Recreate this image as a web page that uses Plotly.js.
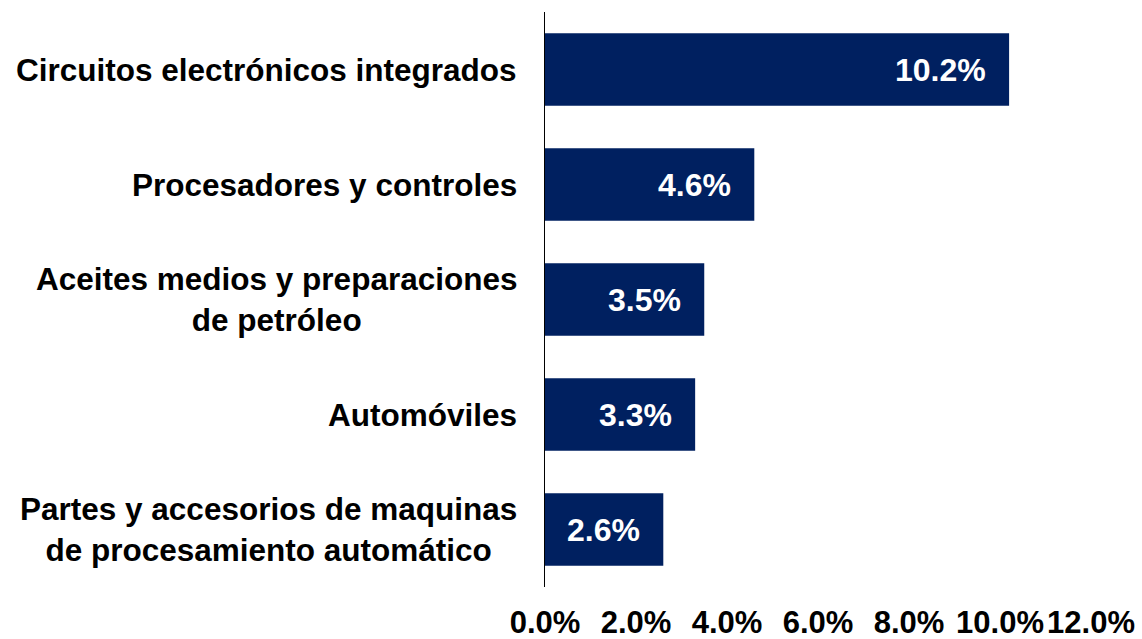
<!DOCTYPE html>
<html>
<head>
<meta charset="utf-8">
<script src="https://cdn.plot.ly/plotly-3.0.1.min.js"></script>
<style>html,body{margin:0;padding:0;background:#fff;}#chart{width:1142px;height:639px;}</style>
</head>
<body>
<div id="chart"></div>
<script>
const categories = [
  "Circuitos electrónicos integrados",
  "Procesadores y controles",
  "Aceites medios y preparaciones<br>de petróleo",
  "Automóviles",
  "Partes y accesorios de maquinas<br>de procesamiento automático"
];
const values = [10.2, 4.6, 3.5, 3.3, 2.6];
const labels = ["10.2%", "4.6%", "3.5%", "3.3%", "2.6%"];
const xTicks = [0, 2, 4, 6, 8, 10, 12];

const FONT = "Arial, 'Liberation Sans', sans-serif";
const NAVY = "#002060";

const trace = {
  type: "bar",
  orientation: "h",
  x: values,
  y: categories,
  marker: {color: NAVY},
  hoverinfo: "none"
};

const annotations = [];
categories.forEach((c, i) => {
  annotations.push({
    x: values[i], y: c, xref: "x", yref: "y",
    text: labels[i], showarrow: false,
    xanchor: "right", xshift: -21,
    font: {family: FONT, size: 32, color: "#ffffff", weight: "bold"}
  });
  annotations.push({
    x: 0, y: c, xref: "paper", yref: "y",
    text: c, showarrow: false,
    xanchor: "right", xshift: -26, align: "center",
    font: {family: FONT, size: 31.5, color: "#000000", weight: "bold"}
  });
});

const layout = {
  width: 1142, height: 639,
  margin: {l: 545, r: 51, t: 12, b: 52, pad: 0},
  paper_bgcolor: "#ffffff", plot_bgcolor: "#ffffff",
  showlegend: false,
  bargap: 0.37,
  font: {family: FONT, size: 30, color: "#000"},
  xaxis: {
    range: [0, 12], tickvals: xTicks,
    ticktext: xTicks.map(v => v.toFixed(1) + "%"),
    showgrid: false, zeroline: false, showline: false,
    ticks: "outside", ticklen: 8, tickcolor: "rgba(0,0,0,0)",
    tickfont: {family: FONT, size: 31, color: "#000", weight: "bold"},
    fixedrange: true
  },
  yaxis: {
    autorange: "reversed",
    showticklabels: false, showgrid: false, zeroline: false,
    showline: true, linecolor: "#000", linewidth: 1.5,
    ticks: "", fixedrange: true
  },
  annotations: annotations
};

Plotly.newPlot("chart", [trace], layout, {displayModeBar: false, staticPlot: true});
</script>
</body>
</html>
